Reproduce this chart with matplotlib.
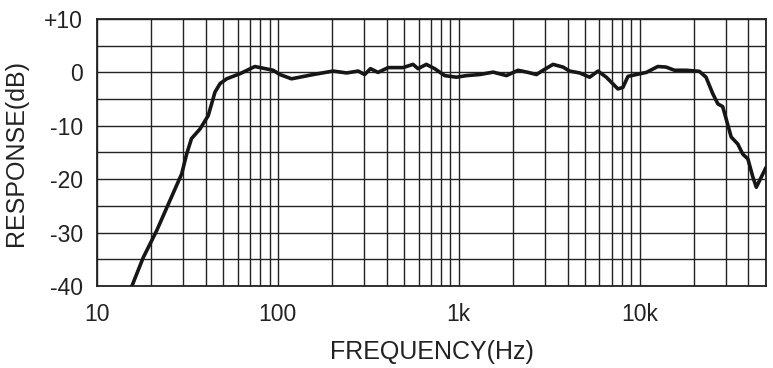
import matplotlib.pyplot as plt
from matplotlib.ticker import FixedLocator, LogLocator, MultipleLocator, NullFormatter

plt.rcParams['font.family'] = ['Liberation Sans', 'DejaVu Sans']

# Frequency response (Hz, dB)
freq = [15.6, 18.0, 21.4, 25.3, 29.4, 31.3, 33.3, 37.1, 41.2, 44.9,
        47.9, 52.1, 61.7, 74.6, 94.2,
        102.6, 119, 157, 202, 240, 278, 302, 325, 358, 407,
        492, 559, 596, 662, 736, 837, 971, 1104, 1306, 1549,
        1836, 2129, 2417, 2690, 2926, 3322, 3770, 4104, 4663, 5297,
        5888, 6548, 7591, 8091, 8623, 9594, 10900, 12600, 14000, 15600,
        18100, 21400, 23300, 25400, 27100, 28800, 30100, 32100, 34900, 37200,
        39700, 42300, 44200, 47100, 50000]
resp = [-40, -34.7, -29.6, -24.0, -19.0, -15.3, -12.4, -10.6, -8.1, -3.7,
        -2.1, -1.2, -0.25, 1.1, 0.4,
        -0.4, -1.2, -0.4, 0.25, -0.1, 0.25, -0.4, 0.7, 0.0, 0.9,
        0.9, 1.5, 0.7, 1.5, 0.7, -0.6, -0.9, -0.6, -0.4, 0.05,
        -0.6, 0.4, 0.0, -0.4, 0.4, 1.5, 1.0, 0.25, -0.1, -0.9,
        0.25, -0.9, -3.1, -2.8, -0.75, -0.4, 0.0, 1.1, 1.0, 0.4,
        0.4, 0.2, -0.9, -4.0, -5.9, -6.4, -8.7, -12.1, -13.4, -15.3,
        -16.2, -19.6, -21.5, -19.6, -17.8]

x_ticks = [10, 100, 1000, 10000]
x_labels = ['10', '100', '1k', '10k']
y_ticks = [-40, -30, -20, -10, 0, 10]
y_labels = ['-40', '-30', '-20', '-10', '0', '+10']

fig = plt.figure(figsize=(7.73, 3.68), dpi=100)
ax = fig.add_axes([97 / 773, 1 - 286 / 368, (766 - 97) / 773, (286 - 19) / 368])

ax.plot(freq, resp, color='#161616', lw=2.6, solid_joinstyle='round',
        solid_capstyle='round', zorder=3)

ax.set_xscale('log')
ax.set_xlim(10, 50000)
ax.set_ylim(-40, 10)

ax.xaxis.set_major_locator(FixedLocator(x_ticks))
ax.set_xticklabels(x_labels)
ax.xaxis.set_minor_locator(LogLocator(base=10, subs=range(2, 10)))
ax.xaxis.set_minor_formatter(NullFormatter())
ax.yaxis.set_major_locator(FixedLocator(y_ticks))
ax.set_yticklabels(y_labels)
ax.yaxis.set_minor_locator(MultipleLocator(5))

# Grid on every major and minor line
ax.grid(True, which='both', color='#222222', lw=1.0)
ax.tick_params(which='both', length=0, labelsize=16.5, colors='#222222')
ax.tick_params(axis='x', pad=12)
ax.tick_params(axis='y', pad=10)
for s in ax.spines.values():
    s.set_color('#222222')
    s.set_linewidth(1.3)

ax.set_xlabel('FREQUENCY(Hz)', fontsize=18, color='#222222', labelpad=10)
ax.set_ylabel('RESPONSE(dB)', fontsize=18, color='#222222', labelpad=12)

fig.savefig('out.png', dpi=100)
